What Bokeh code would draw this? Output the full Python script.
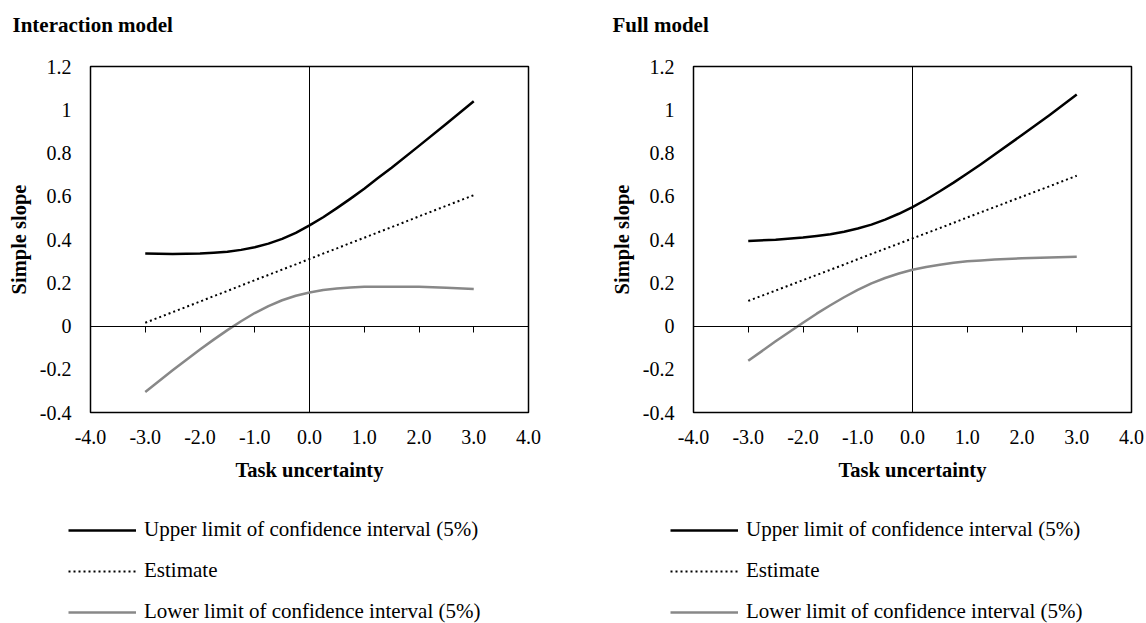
from bokeh.plotting import figure
from bokeh.models import (Range1d, FixedTicker, LinearAxis, Span, Legend,
                          LegendItem, CustomJSTickFormatter, Label)
from bokeh.layouts import row, column
from bokeh.embed import file_html
from bokeh.resources import INLINE

# ---------------- data ----------------
x_vals = [-3.0, -2.5, -2.0, -1.75, -1.5, -1.25, -1.0, -0.75, -0.5, -0.25, 0.0,
          0.25, 0.5, 0.75, 1.0, 1.25, 1.5, 2.0, 2.5, 3.0]

int_upper = [0.335, 0.333, 0.335, 0.339, 0.343, 0.352, 0.364, 0.381, 0.403, 0.431, 0.465,
             0.503, 0.545, 0.589, 0.635, 0.684, 0.732, 0.833, 0.935, 1.039]
int_est = [0.015, 0.064, 0.113, 0.138, 0.162, 0.187, 0.212, 0.236, 0.261, 0.285, 0.310,
           0.335, 0.359, 0.384, 0.408, 0.433, 0.457, 0.507, 0.556, 0.605]
int_lower = [-0.305, -0.205, -0.109, -0.063, -0.019, 0.022, 0.060, 0.092, 0.119, 0.140, 0.155,
             0.166, 0.173, 0.178, 0.181, 0.182, 0.182, 0.181, 0.177, 0.171]

full_upper = [0.393, 0.399, 0.409, 0.416, 0.424, 0.436, 0.451, 0.469, 0.492, 0.519, 0.550,
              0.585, 0.623, 0.663, 0.705, 0.748, 0.793, 0.883, 0.975, 1.070]
full_est = [0.116, 0.164, 0.212, 0.236, 0.260, 0.284, 0.309, 0.333, 0.357, 0.381, 0.405,
            0.429, 0.453, 0.477, 0.502, 0.526, 0.550, 0.598, 0.646, 0.695]
full_lower = [-0.161, -0.071, 0.015, 0.057, 0.096, 0.133, 0.167, 0.197, 0.222, 0.243, 0.260,
              0.273, 0.283, 0.292, 0.299, 0.303, 0.307, 0.313, 0.317, 0.320]

x_ticks = [-4.0, -3.0, -2.0, -1.0, 0.0, 1.0, 2.0, 3.0, 4.0]
zero_line_ticks = [-3.0, -2.0, -1.0, 0.0, 1.0, 2.0, 3.0]
y_ticks = [-0.4, -0.2, 0.0, 0.2, 0.4, 0.6, 0.8, 1.0, 1.2]

titles = ["Interaction model", "Full model"]
x_title = "Task uncertainty"
y_title = "Simple slope"
legend_labels = ["Upper limit of confidence interval (5%)",
                 "Estimate",
                 "Lower limit of confidence interval (5%)"]

# ---------------- styling ----------------
FONT = "Liberation Serif"
TICK_FS = "20px"
AXT_FS = "20.5px"
LEG_FS = "21px"
GRAY = "#888888"
FIG_W = 573
TITLE_H = 48
MAIN_H = 452
LEG_H = 123

UPPER_STYLE = dict(line_color="black", line_width=2.5, line_join="round")
EST_STYLE = dict(line_color="black", line_width=2, line_dash="2 3")
LOWER_STYLE = dict(line_color=GRAY, line_width=2.5, line_join="round")


def blank_figure(height):
    f = figure(width=FIG_W, height=height, x_range=Range1d(0, 1), y_range=Range1d(0, 1),
               output_backend="svg", toolbar_location=None,
               x_axis_location=None, y_axis_location=None,
               min_border=0, min_border_left=0, min_border_right=0,
               min_border_top=0, min_border_bottom=0)
    f.frame_align = False
    f.grid.visible = False
    f.outline_line_color = None
    f.background_fill_color = "white"
    f.border_fill_color = "white"
    return f


def make_title(text, x_px):
    t = blank_figure(TITLE_H)
    t.add_layout(Label(x=x_px, y=TITLE_H - 24, x_units="screen", y_units="screen", text=text,
                       text_font=FONT, text_font_size="21px", text_font_style="bold",
                       text_color="black", text_align="left", text_baseline="middle"))
    return t


def make_panel(upper, est, lower, b_left, b_right):
    p = figure(width=FIG_W, height=MAIN_H, x_range=Range1d(-4, 4), y_range=Range1d(-0.4, 1.2),
               output_backend="svg", toolbar_location=None,
               min_border_left=b_left, min_border_right=b_right,
               min_border_top=66 - TITLE_H, min_border_bottom=TITLE_H + MAIN_H - 412)
    p.frame_align = False
    p.grid.visible = False
    p.background_fill_color = "white"
    p.border_fill_color = "white"
    p.outline_line_color = "black"
    p.outline_line_width = 1.5

    # bottom axis with labels
    xa = p.xaxis[0]
    xa.ticker = FixedTicker(ticks=x_ticks)
    xa.formatter = CustomJSTickFormatter(code="return tick.toFixed(1)")
    xa.axis_line_color = None
    xa.major_tick_line_color = None
    xa.minor_tick_line_color = None
    xa.major_label_standoff = 11
    xa.major_label_text_font = FONT
    xa.major_label_text_font_size = TICK_FS
    xa.major_label_text_color = "black"
    xa.axis_label = x_title
    xa.axis_label_text_font = FONT
    xa.axis_label_text_font_size = AXT_FS
    xa.axis_label_text_font_style = "bold"
    xa.axis_label_text_color = "black"
    xa.axis_label_standoff = 12

    # left axis with labels
    ya = p.yaxis[0]
    ya.ticker = FixedTicker(ticks=y_ticks)
    ya.formatter = CustomJSTickFormatter(code="return parseFloat(tick.toFixed(1)).toString()")
    ya.axis_line_color = None
    ya.major_tick_line_color = None
    ya.minor_tick_line_color = None
    ya.major_label_standoff = 13
    ya.major_label_text_font = FONT
    ya.major_label_text_font_size = TICK_FS
    ya.major_label_text_color = "black"
    ya.axis_label = y_title
    ya.axis_label_text_font = FONT
    ya.axis_label_text_font_size = AXT_FS
    ya.axis_label_text_font_style = "bold"
    ya.axis_label_text_color = "black"
    ya.axis_label_standoff = 7

    # horizontal axis line at y = 0 with downward ticks (no labels)
    zero_axis = LinearAxis(fixed_location=0, ticker=FixedTicker(ticks=zero_line_ticks),
                           formatter=CustomJSTickFormatter(code="return ''"),
                           major_tick_in=0, major_tick_out=6,
                           major_tick_line_color="black", major_tick_line_width=1,
                           minor_tick_line_color=None,
                           axis_line_color="black", axis_line_width=1,
                           major_label_standoff=0)
    p.add_layout(zero_axis, "below")

    # vertical line at x = 0
    vline = Span(location=0, dimension="height", line_color="black", line_width=1, level="underlay")
    p.add_layout(vline)

    p.line(x_vals, upper, **UPPER_STYLE)
    p.line(x_vals, est, **EST_STYLE)
    p.line(x_vals, lower, **LOWER_STYLE)
    return p


def make_legend(upper, est, lower, legend_x):
    lp = blank_figure(LEG_H)
    # the series are drawn here too, but outside the visible range: only their legend shows
    lp.x_range = Range1d(100, 101)
    r_up = lp.line(x_vals, upper, **UPPER_STYLE)
    r_est = lp.line(x_vals, est, **EST_STYLE)
    r_lo = lp.line(x_vals, lower, **LOWER_STYLE)
    legend = Legend(items=[LegendItem(label=legend_labels[0], renderers=[r_up]),
                           LegendItem(label=legend_labels[1], renderers=[r_est]),
                           LegendItem(label=legend_labels[2], renderers=[r_lo])],
                    location=(legend_x, -1), orientation="vertical",
                    glyph_width=68, glyph_height=20, label_height=20, spacing=16,
                    padding=0, margin=0, label_standoff=8,
                    border_line_alpha=0, background_fill_alpha=0,
                    label_text_font=FONT, label_text_font_size=LEG_FS, label_text_color="black")
    lp.add_layout(legend)
    return lp


col1 = column(make_title(titles[0], 12),
              make_panel(int_upper, int_est, int_lower, 90, 45),
              make_legend(int_upper, int_est, int_lower, 68), spacing=0)
col2 = column(make_title(titles[1], 39),
              make_panel(full_upper, full_est, full_lower, 120, 15),
              make_legend(full_upper, full_est, full_lower, 97), spacing=0)

layout = row(col1, col2, spacing=0)
open("out.html", "w").write(file_html(layout, INLINE))
